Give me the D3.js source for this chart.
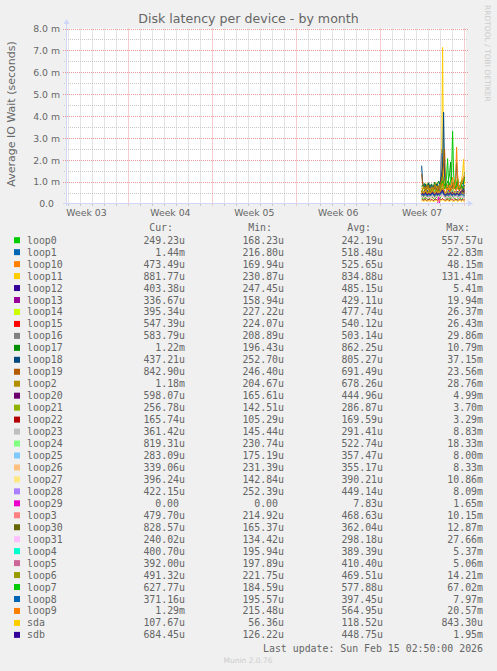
<!DOCTYPE html>
<html><head><meta charset="utf-8">
<script src="https://cdn.jsdelivr.net/npm/d3@7"></script>
<style>html,body{margin:0;padding:0;background:#F0F0F0;}svg{display:block}</style>
</head><body><svg id="c" width="497" height="671"></svg>
<script>
// ---------------- DATA ----------------
const seriesNames = ["loop0","loop1","loop10","loop11","loop12","loop13","loop14","loop15","loop16","loop17",
  "loop18","loop19","loop2","loop20","loop21","loop22","loop23","loop24","loop25","loop26","loop27","loop28",
  "loop29","loop3","loop30","loop31","loop4","loop5","loop6","loop7","loop8","loop9","sda","sdb"];
const seriesColors = ["#00CC00","#0066B3","#FF8000","#FFCC00","#330099","#990099","#CCFF00","#FF0000","#808080",
  "#008F00","#00487D","#B35A00","#B38F00","#6B006B","#8FB300","#B30000","#BEBEBE","#80FF80","#80C9FF","#FFC080",
  "#FFE680","#AA80FF","#EE00CC","#FF8080","#666600","#FFBFFF","#00FFCC","#CC6699","#999900","#00CC00","#0066B3",
  "#FF8000","#FFCC00","#330099"];
const curLabels = ["249.23u","1.44m","473.49u","881.77u","403.38u","336.67u","395.34u","547.39u","583.79u","1.22m",
  "437.21u","842.90u","1.18m","598.07u","256.78u","165.74u","361.42u","819.31u","283.09u","339.06u","396.24u",
  "422.15u","0.00","479.70u","828.57u","240.02u","400.70u","392.00u","491.32u","627.77u","371.16u","1.29m",
  "107.67u","684.45u"];
const minLabels = ["168.23u","216.80u","169.94u","230.87u","247.45u","158.94u","227.22u","224.07u","208.89u","196.43u",
  "252.70u","246.40u","204.67u","165.61u","142.51u","105.29u","145.44u","230.74u","175.19u","231.39u","142.84u",
  "252.39u","0.00","214.92u","165.37u","134.42u","195.94u","197.89u","221.75u","184.59u","195.57u","215.48u",
  "56.36u","126.22u"];
const avgLabels = ["242.19u","518.48u","525.65u","834.88u","485.15u","429.11u","477.74u","540.12u","503.14u","862.25u",
  "805.27u","691.49u","678.26u","444.96u","286.87u","169.59u","291.41u","522.74u","357.47u","355.17u","390.21u",
  "449.14u","7.83u","468.63u","362.04u","298.18u","389.39u","410.40u","469.51u","577.88u","397.45u","564.95u",
  "118.52u","448.75u"];
const maxLabels = ["557.57u","22.83m","48.15m","131.41m","5.41m","19.94m","26.37m","26.43m","29.86m","10.79m",
  "37.15m","23.56m","28.76m","4.99m","3.70m","3.29m","8.83m","18.33m","8.00m","8.33m","10.86m","8.09m","1.65m",
  "10.15m","12.87m","27.66m","5.37m","5.06m","14.21m","67.02m","7.97m","20.57m","843.30u","1.95m"];
const yTickValues = [0,1,2,3,4,5,6,7,8];
const yTickLabels = ["0.0","1.0 m","2.0 m","3.0 m","4.0 m","5.0 m","6.0 m","7.0 m","8.0 m"];
const weekLabels = ["Week 03","Week 04","Week 05","Week 06","Week 07"];

// average IO wait in milliseconds, 2-hour samples from 2026-02-11 12:00 to 2026-02-15 02:00
const latencyMs = [
 /*loop0*/ [.22,.25,.19,.21,.28,.24,.20,.18,.23,.27,.31, .26,.22,.19,.24,.29,.33,.25,.21,.30,.42,.48, .36,.27,.22,.20,.24,.26,.19,.22,.28,.35,.30, .24,.21,.17,.20,.23,.27,.22,.19,.24,.28,.25],
 /*loop1*/ [.45,.38,.52,.41,.36,.48,.55,.39,.33,.42,.60, .47,.35,.44,.58,.71,.52,.40,.62,.95,2.48,1.10, .66,.48,.37,.42,.55,.46,.39,.51,.63,.58,.44, .36,.41,.49,.57,.40,.34,.45,.52,.61,.88,1.44],
 /*loop10*/[.62,.48,.41,.55,.70,.44,.38,.52,.47,.59,.66, .43,.51,.74,.58,.46,.40,.63,.81,.57,.92,1.15, .64,.50,.45,.58,.72,.49,.42,.56,.68,.83,.61, .52,.47,.60,1.35,.75,.55,.48,.62,.79,.58,.47],
 /*loop11*/[.72,.65,.80,.58,.66,.91,.74,.62,.70,.85,.77, .68,.59,.73,.88,.95,.70,.64,.82,1.05,1.42,7.14, 1.30,.86,.71,.63,.78,.92,.69,.60,.75,.88,.81, .66,.72,.94,.79,.65,.71,.85,1.10,1.38,2.02,.88],
 /*loop12*/[.55,.42,.47,.51,.38,.44,.60,.49,.41,.53,.46, .39,.50,.57,.44,.48,.62,.51,.43,.55,.72,.80, .58,.47,.40,.45,.52,.61,.48,.42,.50,.56,.47, .41,.46,.53,.49,.44,.38,.47,.51,.45,.42,.40],
 /*loop13*/[.48,.40,.35,.62,.45,.38,.52,.41,.36,.47,.55, .42,.37,.44,.50,.39,.46,.58,.41,.35,.49,.63, .47,.40,.36,.43,.51,.45,.38,.42,.48,.54,.41, .37,.44,.39,.47,.52,.40,.36,.43,.38,.35,.34],
 /*loop14*/[.44,.52,.47,.40,.55,.49,.43,.58,.46,.41,.50, .57,.45,.39,.48,.53,.62,.47,.42,.51,.68,.74, .56,.49,.44,.52,.46,.40,.55,.61,.48,.43,.50, .45,.54,.47,.42,.49,.44,.51,.46,.41,.43,.40],
 /*loop15*/[.50,.58,.46,.52,.61,.47,.55,.49,.44,.57,.63, .51,.46,.54,.60,.48,.53,.66,.50,.45,.72,.85, .62,.53,.48,.56,.51,.47,.59,.64,.52,.49,.55, .50,.58,.53,.47,.56,.61,.52,.49,.57,.51,.55],
 /*loop16*/[.46,.52,.41,.48,.57,.44,.50,.39,.47,.55,.62, .49,.43,.51,.58,.66,.54,.45,.60,.92,2.30,.98, .60,.48,.42,.47,.53,.45,.40,.50,.57,.52,.46, .41,.49,.55,.47,.43,.51,.48,.45,.53,.60,.58],
 /*loop17*/[.78,.85,.70,.92,.81,.74,.88,.95,.76,.83,.90, .72,.80,.97,.86,.79,.91,1.02,.84,.88,1.15,1.28, .96,.82,.75,.89,.98,1.10,1.36,1.90,1.05,.87,.93, .80,.76,.85,.99,.82,.78,.91,1.04,.88,.95,1.22],
 /*loop18*/[1.73,.96,.82,.74,.88,.70,.79,.92,.68,.75,.86, .72,.81,.65,.77,.90,.84,.71,.93,1.08,1.35,1.62, 4.17,1.20,.85,.74,.69,.80,.92,.76,.71,.83,.95, .78,1.12,1.87,.90,.72,.66,.75,.81,.62,.55,.44],
 /*loop19*/[1.35,.88,.72,.64,.79,.61,.70,.83,.58,.66,.75, .62,.71,.86,.68,.59,.77,.65,.73,.90,1.12,1.30, 1.85,2.48,.96,.70,.62,.74,.81,.66,.60,.72,.85, .69,.63,.78,.92,.70,.61,.67,.75,.80,.72,.84],
 /*loop2*/ [.70,.62,.78,.66,.59,.74,.82,.64,.71,.58,.69, .77,.63,.72,.85,.68,.61,.76,.88,.73,.95,1.18, .84,.70,.65,.79,.86,.72,.63,.68,.81,.92,.75, .66,.71,.83,.69,.62,.74,.80,.92,1.05,1.12,1.18],
 /*loop20*/[.40,.46,.52,.38,.44,.49,.36,.42,.55,.47,.41, .45,.50,.39,.43,.48,.54,.40,.46,.51,.58,.62, .49,.44,.38,.42,.47,.53,.41,.37,.45,.50,.43, .39,.46,.42,.48,.44,.40,.47,.52,.49,.55,.60],
 /*loop21*/[.28,.24,.31,.27,.22,.30,.33,.25,.21,.29,.35, .26,.23,.28,.32,.27,.24,.30,.34,.29,.38,.42, .31,.27,.22,.26,.30,.28,.24,.31,.36,.29,.25, .23,.28,.32,.27,.24,.29,.26,.31,.28,.25,.26],
 /*loop22*/[.16,.18,.15,.17,.19,.14,.16,.18,.17,.15,.20, .16,.14,.17,.19,.18,.15,.16,.21,.17,.19,.23, .18,.16,.15,.17,.19,.16,.14,.18,.20,.17,.15, .16,.18,.17,.15,.16,.19,.17,.15,.18,.16,.17],
 /*loop23*/[.27,.32,.25,.29,.34,.26,.23,.30,.28,.25,.31, .35,.27,.24,.29,.33,.26,.30,.28,.32,.38,.41, .30,.27,.24,.28,.31,.26,.29,.33,.27,.25,.30, .28,.26,.31,.29,.25,.27,.30,.33,.29,.32,.36],
 /*loop24*/[.48,.55,.44,.51,.59,.46,.50,.57,.43,.49,.54, .47,.52,.60,.45,.50,.56,.48,.53,.62,.70,.78, .58,.50,.46,.53,.61,.49,.44,.52,.58,.66,.51, .47,.54,.50,.46,.52,.57,.49,.55,.63,.72,.82],
 /*loop25*/[.34,.39,.31,.36,.41,.33,.37,.30,.35,.40,.32, .38,.34,.31,.37,.42,.35,.33,.39,.44,.50,.46, .38,.34,.31,.36,.40,.33,.30,.37,.42,.35,.32, .36,.39,.34,.31,.37,.35,.32,.36,.33,.30,.28],
 /*loop26*/[.35,.31,.38,.34,.30,.37,.40,.33,.36,.32,.39, .35,.31,.37,.42,.34,.32,.38,.41,.36,.45,.49, .39,.35,.31,.34,.38,.36,.32,.35,.40,.37,.33, .31,.36,.39,.34,.32,.37,.35,.33,.38,.36,.34],
 /*loop27*/[.37,.42,.35,.39,.44,.36,.33,.40,.38,.35,.41, .45,.37,.34,.39,.43,.36,.40,.38,.42,.50,.55, .41,.37,.34,.38,.42,.36,.39,.44,.37,.35,.40, .38,.36,.41,.39,.35,.37,.40,.43,.39,.42,.40],
 /*loop28*/[.43,.48,.41,.46,.51,.42,.39,.47,.44,.40,.49, .53,.43,.40,.46,.50,.42,.47,.45,.49,.57,.61, .48,.44,.41,.45,.49,.43,.46,.51,.44,.42,.47, .45,.43,.48,.46,.42,.44,.47,.50,.46,.44,.42],
 /*loop29*/[0,0,0,0,0,0,0,0,0,0,0, 0,0,0,0,0,0,.34,0,0,0,0, 0,0,0,0,0,0,0,0,0,0,0, 0,0,0,0,0,0,0,0,0,0,0],
 /*loop3*/ [.45,.50,.43,.48,.53,.44,.41,.49,.46,.42,.51, .55,.45,.42,.48,.52,.44,.49,.47,.51,.60,.66, .50,.46,.43,.47,.51,.45,.48,.53,.46,.44,.49, .47,.45,.50,.48,.44,.46,.49,.52,.48,.46,.48],
 /*loop30*/[.33,.37,.30,.35,.40,.32,.36,.29,.34,.38,.31, .36,.33,.30,.35,.41,.34,.32,.37,.42,.48,.44, .36,.33,.30,.34,.38,.32,.29,.35,.40,.34,.31, .35,.38,.33,.30,.36,.34,.39,.45,.58,.71,.83],
 /*loop31*/[.29,.33,.27,.31,.35,.28,.25,.32,.30,.26,.34, .37,.29,.26,.31,.34,.28,.32,.30,.33,.40,.45, .32,.29,.26,.30,.33,.28,.31,.35,.29,.27,.32, .30,.28,.33,.31,.27,.29,.32,.30,.27,.25,.24],
 /*loop4*/ [.37,.41,.35,.39,.43,.36,.34,.40,.38,.35,.42, .44,.37,.34,.39,.42,.36,.40,.38,.41,.48,.52, .40,.37,.34,.38,.41,.36,.39,.43,.37,.35,.40, .38,.36,.41,.39,.35,.37,.40,.42,.39,.41,.40],
 /*loop5*/ [.39,.43,.37,.41,.46,.38,.36,.42,.40,.37,.44, .47,.39,.36,.41,.45,.38,.42,.40,.43,.51,.56, .42,.39,.36,.40,.44,.38,.41,.46,.39,.37,.42, .40,.38,.43,.41,.37,.39,.42,.44,.41,.40,.39],
 /*loop6*/ [.44,.50,.42,.47,.53,.43,.41,.49,.46,.42,.51, .55,.45,.42,.48,.52,.44,.49,.47,.51,.62,.70, .52,.46,.43,.47,.51,.45,.48,.54,.46,.44,.49, .47,.45,.50,.48,.44,.46,.49,.52,.48,.47,.49],
 /*loop7*/ [.52,.60,.48,.55,.64,.50,.46,.58,.53,.49,.61, .66,.54,.50,.57,.63,.51,.59,.55,.62,.88,1.02, .75,.68,.80,1.25,2.05,.90,.72,1.10,1.45,3.30,1.40, .85,.70,.92,1.15,.78,.66,.74,.88,.71,.65,.63],
 /*loop8*/ [.38,.42,.36,.40,.45,.37,.35,.41,.39,.36,.43, .46,.38,.35,.40,.44,.37,.41,.39,.42,.50,.55, .41,.38,.35,.39,.42,.37,.40,.45,.38,.36,.41, .39,.37,.42,.40,.36,.38,.41,.43,.40,.38,.37],
 /*loop9*/ [.50,.58,.47,.53,.62,.48,.45,.56,.52,.47,.60, .64,.51,.48,.55,.61,.49,.57,.53,.60,.78,.92, .66,.55,.50,.58,.70,.62,.85,.74,.95,1.20,.88, .76,1.05,2.57,1.18,.80,.70,.84,.98,1.12,1.20,1.29],
 /*sda*/   [.11,.13,.10,.12,.14,.09,.11,.13,.12,.10,.15, .12,.09,.11,.14,.13,.10,.12,.16,.12,.14,.18, .13,.11,.10,.12,.14,.11,.09,.13,.15,.12,.10, .11,.13,.12,.08,.11,.14,.12,.10,.13,.11,.11],
 /*sdb*/   [.42,.47,.40,.45,.50,.41,.39,.46,.43,.40,.48, .52,.42,.39,.45,.49,.41,.46,.44,.48,.56,.62, .47,.43,.40,.44,.48,.42,.45,.50,.43,.41,.46, .44,.42,.47,.45,.41,.43,.52,.58,.61,.65,.68]
];

// ---------------- CHART ----------------
const svg = d3.select("#c");
const FONT = "#666666";
svg.append("rect").attr("width",497).attr("height",671).attr("fill","#F0F0F0");

const tStart = new Date(Date.UTC(2026,0,12,20,0));
const tEnd = new Date(Date.UTC(2026,1,15,2,50));
const x = d3.scaleUtc().domain([tStart,tEnd]).range([66,465]);
const y = d3.scaleLinear().domain([0,8]).range([203.5,28.5]);
const sampleTimes = d3.utcHour.every(2).range(new Date(Date.UTC(2026,1,11,12)), new Date(Date.UTC(2026,1,15,3)));

// canvas
svg.append("rect").attr("x",66).attr("y",28.5).attr("width",400).attr("height",175).attr("fill","#FFFFFF");

const grid = svg.append("g");
// minor vertical (days)
const days = d3.utcDay.range(tStart, tEnd).filter(d => d.getUTCDay() !== 0);
const weeks = d3.utcWeek.range(tStart, tEnd);
grid.selectAll(".vmin").data(days).join("line")
  .attr("x1", d => Math.round(x(d))+0.5).attr("x2", d => Math.round(x(d))+0.5)
  .attr("y1", 28.5).attr("y2", 203.5)
  .attr("stroke","#C8C8C8").attr("stroke-dasharray","1,1").attr("stroke-width",1);
// minor horizontal
const halfTicks = d3.range(0.5, 8, 1);
grid.selectAll(".hmin").data(halfTicks).join("line")
  .attr("x1", 64).attr("x2", 468)
  .attr("y1", d => Math.round(y(d))+0.5).attr("y2", d => Math.round(y(d))+0.5)
  .attr("stroke","#C8C8C8").attr("stroke-dasharray","1,1");
// major horizontal
grid.selectAll(".hmaj").data(yTickValues.filter(v=>v>0)).join("line")
  .attr("x1", 63).attr("x2", 469)
  .attr("y1", d => Math.round(y(d))+0.5).attr("y2", d => Math.round(y(d))+0.5)
  .attr("stroke","#E89A9A").attr("stroke-dasharray","1,1");
// major vertical (weeks)
grid.selectAll(".vmaj").data(weeks).join("line")
  .attr("x1", d => Math.round(x(d))+0.5).attr("x2", d => Math.round(x(d))+0.5)
  .attr("y1", 28.5).attr("y2", 206)
  .attr("stroke","#E89A9A").attr("stroke-dasharray","1,1");
// small day ticks below axis
grid.selectAll(".vtk").data(days).join("line")
  .attr("x1", d => Math.round(x(d))+0.5).attr("x2", d => Math.round(x(d))+0.5)
  .attr("y1", 203.5).attr("y2", 206)
  .attr("stroke","#C8C8C8");

// data lines
const line = d3.line().x((d,i) => x(sampleTimes[i])).y(d => y(d));
const lines = svg.append("g");
latencyMs.forEach((vals, k) => {
  lines.append("path").datum(vals).attr("d", line)
    .attr("fill","none").attr("stroke", seriesColors[k]).attr("stroke-width",1);
});

// axes lines + arrows
const AX = "#CFD6F8";
svg.append("line").attr("x1",63).attr("x2",468).attr("y1",203.5).attr("y2",203.5).attr("stroke",AX);
svg.append("line").attr("x1",66.5).attr("x2",66.5).attr("y1",206).attr("y2",24).attr("stroke",AX);
svg.append("path").attr("d","M468,200.5 L473,203.5 L468,206.5 Z").attr("fill",AX);
svg.append("path").attr("d","M63.5,24 L66.5,19 L69.5,24 Z").attr("fill",AX);

// y axis labels via d3 axis
const yAxis = d3.axisLeft(y).tickValues(yTickValues).tickSize(0)
  .tickFormat((d,i) => yTickLabels[i]);
const yg = svg.append("g").attr("transform","translate(60,0)").call(yAxis);
yg.select(".domain").remove();
yg.selectAll("text").attr("fill",FONT).attr("font-family","DejaVu Sans").attr("font-size","9.3px")
  .attr("x",0).attr("dy","0.35em")
  .attr("dx", (d,i) => i===0 ? -6 : 0);

// x axis week labels
const weekCenters = weeks.map(w => d3.utcHour.offset(w, -84));
weekCenters.push(d3.utcHour.offset(weeks[weeks.length-1], 84));
const xAxis = d3.axisBottom(x).tickValues(weekCenters).tickSize(0)
  .tickFormat((d,i) => weekLabels[i]);
const xg = svg.append("g").attr("transform","translate(0,203.5)").call(xAxis);
xg.select(".domain").remove();
xg.selectAll("text").attr("fill",FONT).attr("font-family","DejaVu Sans").attr("font-size","9.3px")
  .attr("y",12.5).attr("dy",0);

// title
svg.append("text").attr("x",248.5).attr("y",23).attr("text-anchor","middle")
  .attr("font-family","DejaVu Sans").attr("font-size","12.6px").attr("fill",FONT)
  .text("Disk latency per device - by month");
// y label
svg.append("text").attr("transform","translate(15.3,114) rotate(-90)").attr("text-anchor","middle")
  .attr("font-family","DejaVu Sans").attr("font-size","11px").attr("fill",FONT)
  .text("Average IO Wait (seconds)");
// watermark
svg.append("text").attr("transform","translate(485,5) rotate(90)").attr("text-anchor","start")
  .attr("font-family","DejaVu Sans").attr("font-size","7.5px").attr("fill","#CCCCCC")
  .text("RRDTOOL / TOBI OETIKER");

// legend
const mono = "DejaVu Sans Mono";
const lg = svg.append("g").attr("font-family",mono).attr("font-size","9.9px").attr("fill",FONT);
[["Cur:",173],["Min:",272],["Avg:",371],["Max:",470]].forEach(([t,xx]) => {
  lg.append("text").attr("x",xx).attr("y",230.7).attr("text-anchor","end").text(t);
});
const colRight = [185,284,383,483];
const cols = [curLabels,minLabels,avgLabels,maxLabels];
seriesNames.forEach((name,i) => {
  const by = 243.7 + i*11.96;
  lg.append("rect").attr("x",14).attr("y",by-6.5).attr("width",6).attr("height",6).attr("fill",seriesColors[i]);
  lg.append("text").attr("x",27).attr("y",by).text(name);
  cols.forEach((arr,c) => {
    const s = arr[i];
    const hasUnit = /[a-zA-Z]$/.test(s);
    lg.append("text").attr("x", colRight[c] - (hasUnit?0:6)).attr("y",by).attr("text-anchor","end").text(s);
  });
});
lg.append("text").attr("x",483).attr("y",651.5).attr("text-anchor","end").text("Last update: Sun Feb 15 02:50:00 2026");
svg.append("text").attr("x",248).attr("y",663).attr("text-anchor","middle")
  .attr("font-family","DejaVu Sans").attr("font-size","7.5px").attr("fill","#CCCCCC").text("Munin 2.0.76");
</script></body></html>
